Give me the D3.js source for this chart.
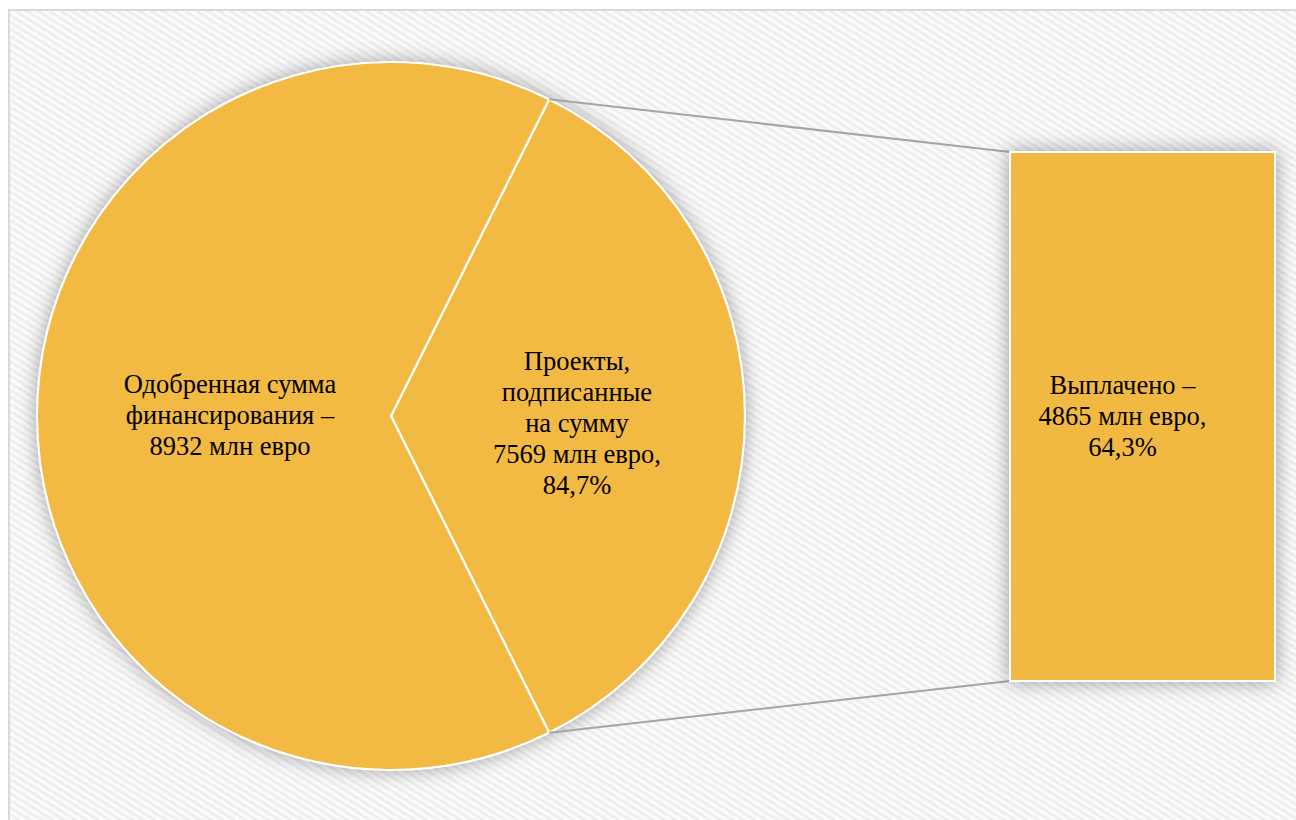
<!DOCTYPE html>
<html>
<head>
<meta charset="utf-8">
<script src="https://cdn.jsdelivr.net/npm/d3@7"></script>
<style>
  html, body { margin: 0; padding: 0; background: #ffffff; }
  svg { display: block; }
  .lbl { font-family: "Times New Roman", "Liberation Serif", Tinos, "DejaVu Serif", serif; }
</style>
</head>
<body>
<svg id="chart" width="1296" height="820"></svg>
<script>
// Pie slices: approved financing and the aggregated "other" slice (paid out, shown as a bar)
const pieCategories = ["Одобренная сумма финансирования", "Выплачено"];
const pieValues = [8932, 4865];
// Bar of the secondary plot
const barCategories = ["Выплачено"];
const barValues = [4865];
// Label texts
const approvedLabel = ["Одобренная сумма", "финансирования –", "8932 млн евро"];
const signedLabel = ["Проекты,", "подписанные", "на сумму", "7569 млн евро,", "84,7%"];
const paidLabel = ["Выплачено –", "4865 млн евро,", "64,3%"];

const W = 1296, H = 820;
const svg = d3.select("#chart");
const defs = svg.append("defs");

// diagonal texture of the chart area
const pat = defs.append("pattern")
  .attr("id", "diag").attr("patternUnits", "userSpaceOnUse")
  .attr("width", 6).attr("height", 6)
  .attr("patternTransform", "rotate(32)");
pat.append("rect").attr("width", 6).attr("height", 6).attr("fill", "#fbfbfb");
pat.append("rect").attr("width", 6).attr("height", 2.6).attr("fill", "#ededed");

const shadow = defs.append("filter").attr("id", "shadow")
  .attr("x", "-20%").attr("y", "-20%").attr("width", "140%").attr("height", "140%");
shadow.append("feDropShadow").attr("dx", 0).attr("dy", 0)
  .attr("stdDeviation", 10).attr("flood-color", "#000").attr("flood-opacity", 0.38);

// frame
svg.append("rect").attr("x", 9).attr("y", 10).attr("width", W).attr("height", H)
  .attr("fill", "url(#diag)").attr("stroke", "#d9d9d9").attr("stroke-width", 2);

const fill = "#f2b943";
const cx = 391, cy = 416, r = 354;

// pie with the secondary slice centred on the right side
const paidShare = pieValues[1] / d3.sum(pieValues);
const start = Math.PI / 2 - paidShare * Math.PI;
const pie = d3.pie().sort(null).startAngle(start).endAngle(start + 2 * Math.PI);
const arcs = pie([pieValues[1], pieValues[0]]);
const arc = d3.arc().innerRadius(0).outerRadius(r);

const g = svg.append("g").attr("transform", `translate(${cx},${cy})`);
g.append("circle").attr("r", r).attr("fill", fill).attr("filter", "url(#shadow)");
g.selectAll("path.slice").data(arcs).join("path")
  .attr("class", "slice")
  .attr("d", arc)
  .attr("fill", fill)
  .attr("stroke", "#ffffff").attr("stroke-width", 2.2)
  .attr("stroke-linejoin", "miter");

// secondary bar
const barX = d3.scaleBand().domain(barCategories).range([1010, 1275]).padding(0);
const barY = d3.scaleLinear().domain([0, d3.max(barValues)]).range([681, 152]);

const other = arcs[0];
const pt = a => [cx + r * Math.sin(a), cy - r * Math.cos(a)];
const pTop = pt(other.startAngle), pBot = pt(other.endAngle);
const bx = barX(barCategories[0]);
svg.append("line")
  .attr("x1", pTop[0]).attr("y1", pTop[1]).attr("x2", bx).attr("y2", barY(barValues[0]))
  .attr("stroke", "#a5a5a5").attr("stroke-width", 2);
svg.append("line")
  .attr("x1", pBot[0]).attr("y1", pBot[1]).attr("x2", bx).attr("y2", barY(0))
  .attr("stroke", "#a5a5a5").attr("stroke-width", 2);

svg.selectAll("rect.bar").data(barValues).join("rect")
  .attr("class", "bar")
  .attr("x", (d, i) => barX(barCategories[i]))
  .attr("y", d => barY(d))
  .attr("width", barX.bandwidth())
  .attr("height", d => barY(0) - barY(d))
  .attr("fill", fill)
  .attr("stroke", "#ffffff").attr("stroke-width", 2)
  .attr("filter", "url(#shadow)");

// labels
const lh = 31;
function label(lines, x, y) {
  const t = svg.append("text")
    .attr("class", "lbl")
    .attr("text-anchor", "middle")
    .style("font-size", "26.5px")
    .attr("fill", "#000");
  const y0 = y - (lines.length - 1) / 2 * lh + 8;
  lines.forEach((s, i) => t.append("tspan").attr("x", x).attr("y", y0 + i * lh).text(s));
}
const labArc = k => d3.arc().innerRadius(k).outerRadius(k);
const cApproved = labArc(161).centroid(arcs[1]);
const cSigned = labArc(186).centroid(arcs[0]);
label(approvedLabel, cx + cApproved[0], cy + cApproved[1]);
label(signedLabel, cx + cSigned[0], cy + cSigned[1] + 8);
label(paidLabel, bx + barX.bandwidth() / 2 - 20, (barY(0) + barY(barValues[0])) / 2);
</script>
</body>
</html>
